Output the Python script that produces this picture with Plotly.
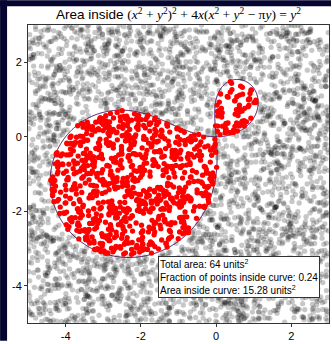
import numpy as np
import plotly.graph_objects as go

# ---- data ----
x_range = [-5, 3]
y_range = [-5, 3]
n_points = 4000
# NOTE: the ~4000 individual Monte Carlo sample positions cannot be read from the image,
# so they are regenerated with a fixed-seed uniform generator (a deliberate, flagged
# exception). The curve, axis ranges and the printed statistics come from the picture.
sample_seed = 7
x_ticks = [-4, -2, 0, 2]
y_ticks = [-4, -2, 0, 2]
x_tick_labels = ["-4", "-2", "0", "2"]
y_tick_labels = ["-4", "-2", "0", "2"]
total_area = 64
fraction_inside = 0.24
area_inside = 15.28

def curve(x, y):
    r2 = x**2 + y**2
    return r2**2 + 4 * x * (r2 - np.pi * y) - y**2

rng = np.random.default_rng(sample_seed)
px = rng.uniform(x_range[0], x_range[1], n_points)
py = rng.uniform(y_range[0], y_range[1], n_points)
inside = curve(px, py) < 0

gx = np.linspace(x_range[0], x_range[1], 500)
gy = np.linspace(y_range[0], y_range[1], 500)
GX, GY = np.meshgrid(gx, gy)
GZ = curve(GX, GY)

fig = go.Figure()
fig.add_trace(go.Scatter(x=px[~inside], y=py[~inside], mode="markers",
                         marker=dict(size=5.3, color="rgba(0,0,0,0.22)", line=dict(width=0)),
                         hoverinfo="skip", showlegend=False))
fig.add_trace(go.Scatter(x=px[inside], y=py[inside], mode="markers",
                         marker=dict(size=5.3, color="#ff0000", line=dict(width=0)),
                         hoverinfo="skip", showlegend=False))
fig.add_trace(go.Contour(x=gx, y=gy, z=GZ, showscale=False, hoverinfo="skip",
                         contours=dict(start=0, end=0, size=1, coloring="lines"),
                         colorscale=[[0, "#440154"], [1, "#440154"]],
                         line=dict(width=1)))

W, H = 332, 344
ml, mr, mt, mb = 28, 2, 25, 18
pw, ph = W - ml - mr, H - mt - mb

# navy frame strips on the left and top edges
fig.add_shape(type="rect", xref="paper", yref="paper",
              x0=-ml / pw, x1=(7 - ml) / pw, y0=-mb / ph, y1=1 + mt / ph,
              fillcolor="#050530", line=dict(width=0), layer="above")
fig.add_shape(type="rect", xref="paper", yref="paper",
              x0=-ml / pw, x1=1 + mr / pw, y0=1 + (mt - 6) / ph, y1=1 + mt / ph,
              fillcolor="#050530", line=dict(width=0), layer="above")

fig.add_annotation(
    xref="paper", yref="paper", x=(158 - ml) / pw, y=1 - (301 - mt) / ph,
    xanchor="left", yanchor="bottom", align="left", showarrow=False,
    text=(f"Total area: {total_area} units<sup>2</sup><br>"
          f"Fraction of points inside curve: {fraction_inside}<br>"
          f"Area inside curve: {area_inside} units<sup>2</sup>"),
    font=dict(family="Liberation Sans, Arial, sans-serif", size=10, color="black"),
    bgcolor="white", bordercolor="#333333", borderwidth=1, borderpad=1)

fig.update_layout(
    width=W, height=H,
    margin=dict(l=ml, r=mr, t=mt, b=mb),
    paper_bgcolor="white", plot_bgcolor="white",
    title=dict(
        text=("<span style='font-family:Liberation Sans'>Area inside </span>"
              "(<i>x</i><sup>2</sup> + <i>y</i><sup>2</sup>)<sup>2</sup> + 4<i>x</i>"
              "(<i>x</i><sup>2</sup> + <i>y</i><sup>2</sup> − π<i>y</i>) = <i>y</i><sup>2</sup>"),
        x=0.5, xref="paper", xanchor="center", y=1 - 14.5 / H, yref="container", yanchor="middle",
        font=dict(family="Liberation Serif, serif", size=13.5, color="black")),
    font=dict(family="Liberation Sans, Arial, sans-serif", size=11, color="black"),
)
axis_common = dict(showgrid=False, zeroline=False, showline=True, linecolor="#333333",
                   linewidth=1, mirror=True, ticks="outside", ticklen=3, tickcolor="#333333",
                   tickfont=dict(size=11, color="black"))
fig.update_xaxes(range=x_range, tickvals=x_ticks, ticktext=x_tick_labels, **axis_common)
fig.update_yaxes(range=y_range, tickvals=y_ticks, ticktext=y_tick_labels, **axis_common)

fig.write_html("out.html", config={"displayModeBar": False},
               post_script=("document.documentElement.style.overflow='hidden';"
                            "document.documentElement.style.background='white';"
                            "document.body.style.background='white';"
                            "document.body.style.overflow='hidden';"
                            "document.body.style.margin='0';document.body.style.padding='0';"))
